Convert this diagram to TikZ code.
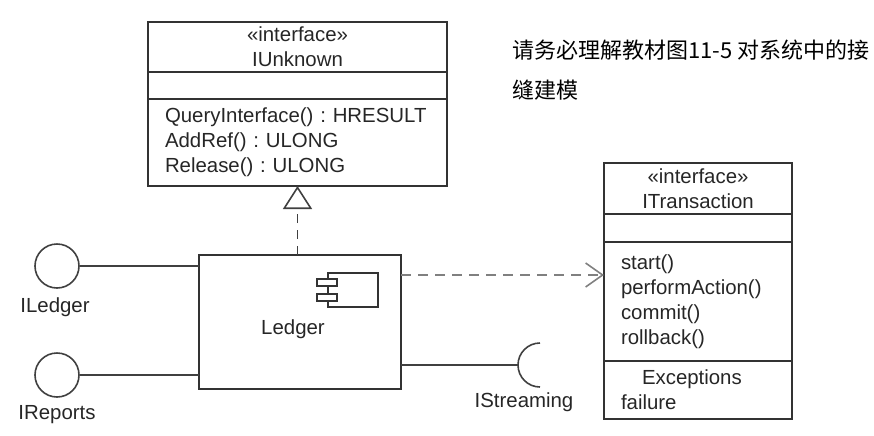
\documentclass[tikz,border=0pt]{standalone}
\usepackage{fontspec}
\setmainfont{Liberation Sans}
\newfontfamily\cjk{Noto Sans CJK SC}
\usepackage{tikz}
\usetikzlibrary{positioning}
\usetikzlibrary{arrows.meta}
\frenchspacing

\begin{document}
\begin{tikzpicture}[x=0.5pt, y=-0.5pt,
    every node/.style={font=\fontsize{10.2}{12.5}\selectfont, text=black!85},
    part/.style={draw=black!80, line width=0.8pt, inner sep=0pt, outer sep=0pt},
    wire/.style={draw=black!75, line width=0.8pt},
    depend/.style={wire, draw=black!50, dash pattern=on 5pt off 3.5pt, -{Straight Barb[length=8.5pt, width=12pt]}},
    realize/.style={wire, draw=black!75, dash pattern=on 4.5pt off 3.5pt, -{Triangle[open, length=11.5pt, width=14.5pt]}},
    iface/.style={circle, draw=black!75, line width=0.8pt, minimum size=22pt, inner sep=0pt}]
\useasboundingbox (0,0) rectangle (874,435);

    % IUnknown
    \node[part, align=center, minimum width=149.5pt, minimum height=25pt] (unkhead) at (297.5,47) {«interface»\\IUnknown};
    \node[part, minimum width=149.5pt, minimum height=13.5pt, below=0pt of unkhead] (unkattr) {};
    \node[part, align=left, inner xsep=8.5pt, text width=132.5pt, minimum height=43.5pt, below=0pt of unkattr] (unkops) {
        QueryInterface() : HRESULT\\
        AddRef() : ULONG\\
        Release() : ULONG};

    % ITransaction
    \node[part, align=center, minimum width=94pt, minimum height=25.5pt] (tranhead) at (698,188.5) {«interface»\\ITransaction};
    \node[part, minimum width=94pt, minimum height=14pt, below=0pt of tranhead] (tranattr) {};
    \node[part, align=left, inner xsep=8.5pt, text width=77pt, minimum height=59.5pt, below=0pt of tranattr] (tranops) {
        start()\\
        performAction()\\
        commit()\\
        rollback()};
    \node[part, align=left, inner xsep=8.5pt, text width=77pt, minimum height=29pt, below=0pt of tranops] (tranexc) {
        \hspace*{10.5pt}Exceptions\\
        failure};

    % Ledger component
    \node[part, minimum width=101pt, minimum height=67pt] (ledger) at (300,322) {};
    \node (ledgername) at (293,329) {Ledger};
    \draw[part] (328,273) rectangle (378,307);
    \draw[part, fill=white] (317,279) rectangle (337,286);
    \draw[part, fill=white] (317,294) rectangle (337,301);

    % interfaces
    \node[iface] (iledger) at (57,266) {};
    \node (iledgername) at (55,307) {ILedger};
    \node[iface] (ireports) at (57,375) {};
    \node (ireportsname) at (57,415) {IReports};
    \coordinate (socket) at (518,365);
    \node (istreamname) at (524,402) {IStreaming};

    \node[anchor=west, align=left, text=black, font=\cjk\fontsize{11}{20}\selectfont] (note) at (505,70) {请务必理解教材图11-5 对系统中的接\\缝建模};

\draw[wire] (iledger) -- (iledger -| ledger.west);
\draw[wire] (ireports) -- (ireports -| ledger.west);
\draw[wire] (socket -| ledger.east) -- (socket);
\draw[wire] (socket) ++(11pt,11pt) arc[start angle=90, end angle=270, radius=11pt];
\coordinate (deplevel) at (500,275);
\draw[depend] (deplevel -| ledger.east) -- (deplevel -| tranops.west);
\draw[realize] (unkops.south |- ledger.north) -- (unkops.south);
\end{tikzpicture}
\end{document}
